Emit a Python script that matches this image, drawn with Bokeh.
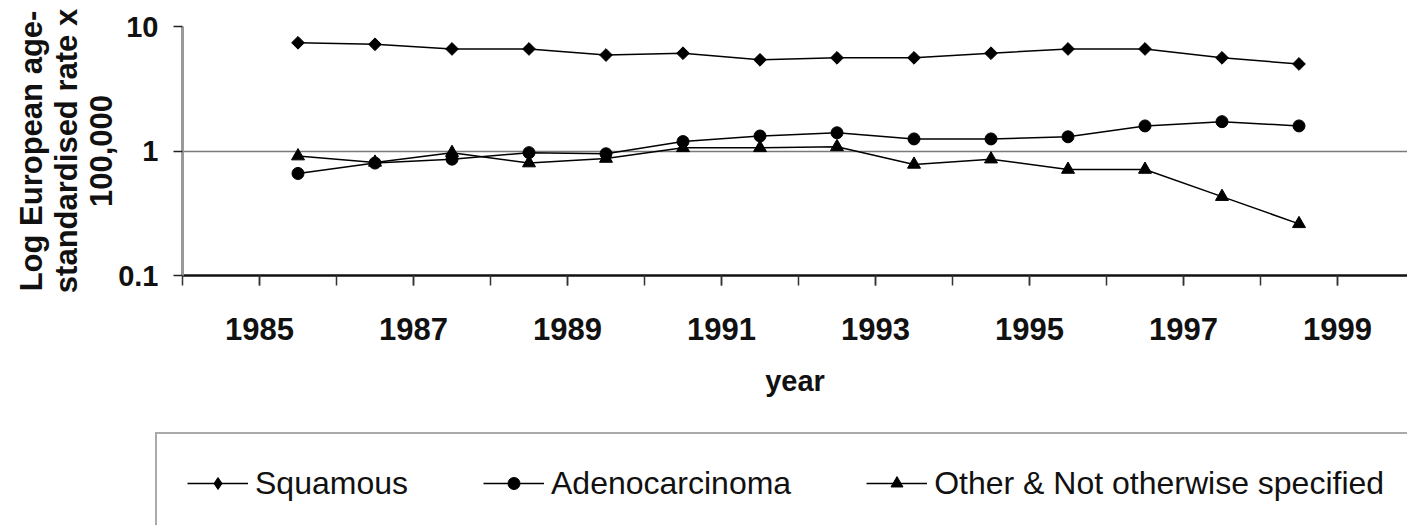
import math
from bokeh.plotting import figure
from bokeh.layouts import column
from bokeh.models import (ColumnDataSource, FixedTicker, Legend, LegendItem,
                          CustomJSTickFormatter)
from bokeh.embed import file_html
from bokeh.resources import INLINE

# Registration years; each annual rate is plotted at the middle of its year
years = [1985, 1986, 1987, 1988, 1989, 1990, 1991,
         1992, 1993, 1994, 1995, 1996, 1997, 1998]

# European age-standardised rate per 100,000
squamous = [7.4, 7.2, 6.6, 6.6, 5.9, 6.1, 5.4, 5.6, 5.6, 6.1, 6.6, 6.6, 5.6, 5.0]
adenocarcinoma = [0.66, 0.80, 0.86, 0.97, 0.95, 1.19, 1.32, 1.40, 1.25, 1.25,
                  1.30, 1.59, 1.72, 1.59]
other_nos = [0.91, 0.81, 0.97, 0.80, 0.87, 1.06, 1.06, 1.08, 0.78, 0.86,
             0.71, 0.71, 0.43, 0.26]

series_names = ["Squamous", "Adenocarcinoma", "Other & Not otherwise specified"]
y_ticks = [0.1, 1, 10]
label_years = [1985, 1987, 1989, 1991, 1993, 1995, 1997, 1999]
tick_years = list(range(1984, 2001))

mid_year = [y + 0.5 for y in years]
src = ColumnDataSource(dict(x=mid_year, sq=squamous, ad=adenocarcinoma, ot=other_nos))

FONT = "Liberation Sans"
W = 1407
TOP_H = 430

p = figure(width=W, height=TOP_H, output_backend="svg", toolbar_location=None,
           x_range=(1984, 1984 + 1225 / 77), y_range=(0.1, 10), y_axis_type="log",
           min_border_left=182, min_border_right=0, min_border_top=26,
           min_border_bottom=TOP_H - 275, outline_line_color=None)

# axes
xa = p.xaxis[0]
xa.ticker = FixedTicker(ticks=label_years, minor_ticks=tick_years)
xa.axis_line_color = "#111111"
xa.axis_line_width = 2.5
xa.major_tick_out = 10
xa.major_tick_in = 0
xa.minor_tick_out = 10
xa.minor_tick_in = 0
xa.major_tick_line_color = "#333333"
xa.minor_tick_line_color = "#333333"
xa.major_tick_line_width = 1.5
xa.minor_tick_line_width = 1.5
xa.major_label_text_font = FONT
xa.major_label_text_font_style = "bold"
xa.major_label_text_font_size = "31px"
xa.major_label_text_color = "#111111"
xa.major_label_standoff = 32
xa.axis_label = "year"
xa.axis_label_text_font = FONT
xa.axis_label_text_font_style = "bold"
xa.axis_label_text_font_size = "29px"
xa.axis_label_text_color = "#111111"
xa.axis_label_standoff = 22

ya = p.yaxis[0]
ya.ticker = FixedTicker(ticks=y_ticks, minor_ticks=[])
ya.formatter = CustomJSTickFormatter(code="return tick < 1 ? tick.toFixed(1) : tick.toFixed(0)")
ya.axis_line_color = "#999999"
ya.axis_line_width = 3
ya.major_tick_out = 9
ya.major_tick_in = 0
ya.major_tick_line_color = "#222222"
ya.major_tick_line_width = 1.5
ya.minor_tick_line_color = None
ya.major_label_text_font = FONT
ya.major_label_text_font_style = "bold"
ya.major_label_text_font_size = "29px"
ya.major_label_text_color = "#111111"
ya.major_label_standoff = 15
ya.axis_label = "Log European age-\nstandardised rate x\n100,000"
ya.axis_label_text_font = FONT
ya.axis_label_text_font_style = "bold"
ya.axis_label_text_font_size = "31px"
ya.axis_label_text_line_height = 1.0
ya.axis_label_text_color = "#111111"
ya.axis_label_standoff = -4

p.xgrid.grid_line_color = None
p.ygrid.ticker = FixedTicker(ticks=[1, 10], minor_ticks=[])
p.ygrid.grid_line_color = "#7a7a7a"
p.ygrid.grid_line_width = 1.5


def add_series(fig, diamond_marker):
    lw = 1.5
    if diamond_marker == "square":
        m1_kw = dict(marker="square", angle=math.pi / 4, size=9)
    else:
        m1_kw = dict(marker="diamond", size=13)
    l1 = fig.line("x", "sq", source=src, line_color="black", line_width=lw)
    m1 = fig.scatter("x", "sq", source=src, fill_color="black", line_color="black", **m1_kw)
    l2 = fig.line("x", "ad", source=src, line_color="black", line_width=lw)
    m2 = fig.scatter("x", "ad", source=src, marker="circle", size=12,
                     fill_color="black", line_color="black")
    l3 = fig.line("x", "ot", source=src, line_color="black", line_width=lw)
    m3 = fig.scatter("x", "ot", source=src, marker="triangle", size=13,
                     fill_color="black", line_color="black")
    return [(l1, m1), (l2, m2), (l3, m3)]


add_series(p, "square")

# legend strip below the chart; its own series renderers sit outside its view
leg_h = 525 - TOP_H
lf = figure(width=W, height=leg_h, output_backend="svg", toolbar_location=None,
            x_range=(0, 1), y_range=(0, 1), min_border=0, outline_line_color=None,
            x_axis_location=None, y_axis_location=None)
lf.grid.visible = False
for fig in (p, lf):
    if "frame_align" in fig.properties():
        fig.frame_align = False
pairs = add_series(lf, "diamond")

pad = 30
lab_h = 38
bw = 2
leg_total_h = 2 * pad + lab_h + 2 * bw
legend = Legend(
    items=[LegendItem(label=name, renderers=list(rs)) for name, rs in zip(series_names, pairs)],
    orientation="horizontal", location=(155, leg_h - 2 - leg_total_h),
    glyph_width=61, glyph_height=30, label_height=lab_h, label_standoff=7,
    spacing=75, padding=pad, margin=0,
    border_line_color="#555555", border_line_width=bw,
    background_fill_color="white", background_fill_alpha=1.0,
    label_text_font=FONT, label_text_font_size="32px", label_text_color="#111111",
)
lf.add_layout(legend)

open("out.html", "w").write(file_html(column(p, lf, spacing=0), INLINE))
